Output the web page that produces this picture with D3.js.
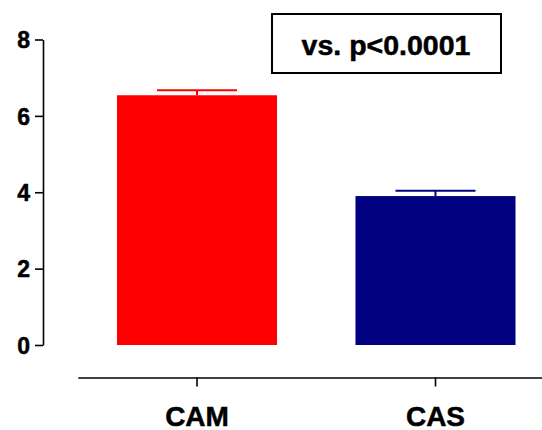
<!DOCTYPE html>
<html>
<head>
<meta charset="utf-8">
<script src="https://cdn.jsdelivr.net/npm/d3@7"></script>
<style>
  body { margin: 0; background: #fff; }
  text { font-family: "Liberation Sans", Arial, sans-serif; font-weight: bold; fill: #000; stroke: #000; stroke-width: 0.5px; }
</style>
</head>
<body>
<svg id="chart" width="542" height="430"></svg>
<script>
/* -------------------------------------------------------------------------- */
// data
const groups = ['CAM', 'CAS'];
const means = [6.54, 3.90];
const errors = [0.13, 0.14];
const barColors = ['#ff0000', '#000080'];
const yTicks = [0, 2, 4, 6, 8];
const note = 'vs. p<0.0001';

/* -------------------------------------------------------------------------- */
const svg = d3.select('#chart');

const x = d3.scaleBand()
  .domain(groups)
  .range([77.75, 554.75])
  .paddingInner(0.329)
  .paddingOuter(0.1646);

const y = d3.scaleLinear()
  .domain([0, 8])
  .range([345, 39.5]);

// y axis
const yAxis = svg.append('g')
  .attr('transform', 'translate(43,0)')
  .call(d3.axisLeft(y).tickValues(yTicks).tickSize(8).tickSizeOuter(0).tickPadding(5));
yAxis.selectAll('path, line').attr('stroke', '#000').attr('stroke-width', 1.6);
yAxis.selectAll('text').style('font-size', '23px').attr('dy', '0.36em');

// x axis
const xAxis = svg.append('g')
  .attr('transform', 'translate(0,377.5)')
  .call(d3.axisBottom(x).tickSize(9).tickSizeOuter(0).tickPadding(20));
xAxis.selectAll('path, line').attr('stroke', '#000').attr('stroke-width', 1.6);
xAxis.selectAll('text').style('font-size', '28px');

// bars
const rows = groups.map((g, i) => ({g: g, v: means[i], e: errors[i], c: barColors[i]}));

svg.selectAll('rect.bar')
  .data(rows)
  .enter()
  .append('rect')
  .attr('class', 'bar')
  .attr('x', d => x(d.g))
  .attr('y', d => y(d.v))
  .attr('width', x.bandwidth())
  .attr('height', d => y(0) - y(d.v))
  .attr('fill', d => d.c);

// error bars (upper only)
const eb = svg.selectAll('g.err')
  .data(rows)
  .enter()
  .append('g')
  .attr('class', 'err')
  .attr('stroke', d => d.c)
  .attr('stroke-width', 2);

eb.append('line')
  .attr('x1', d => x(d.g) + x.bandwidth() / 2)
  .attr('x2', d => x(d.g) + x.bandwidth() / 2)
  .attr('y1', d => y(d.v))
  .attr('y2', d => y(d.v + d.e));

eb.append('line')
  .attr('x1', d => x(d.g) + x.bandwidth() / 4)
  .attr('x2', d => x(d.g) + x.bandwidth() * 3 / 4)
  .attr('y1', d => y(d.v + d.e))
  .attr('y2', d => y(d.v + d.e));

// annotation box
const box = svg.append('g');
box.append('rect')
  .attr('x', 272).attr('y', 14)
  .attr('width', 229).attr('height', 59)
  .attr('fill', 'none')
  .attr('stroke', '#000')
  .attr('stroke-width', 2);
box.append('text')
  .attr('x', 386).attr('y', 55)
  .attr('text-anchor', 'middle')
  .style('font-size', '28.5px')
  .text(note);
</script>
</body>
</html>
